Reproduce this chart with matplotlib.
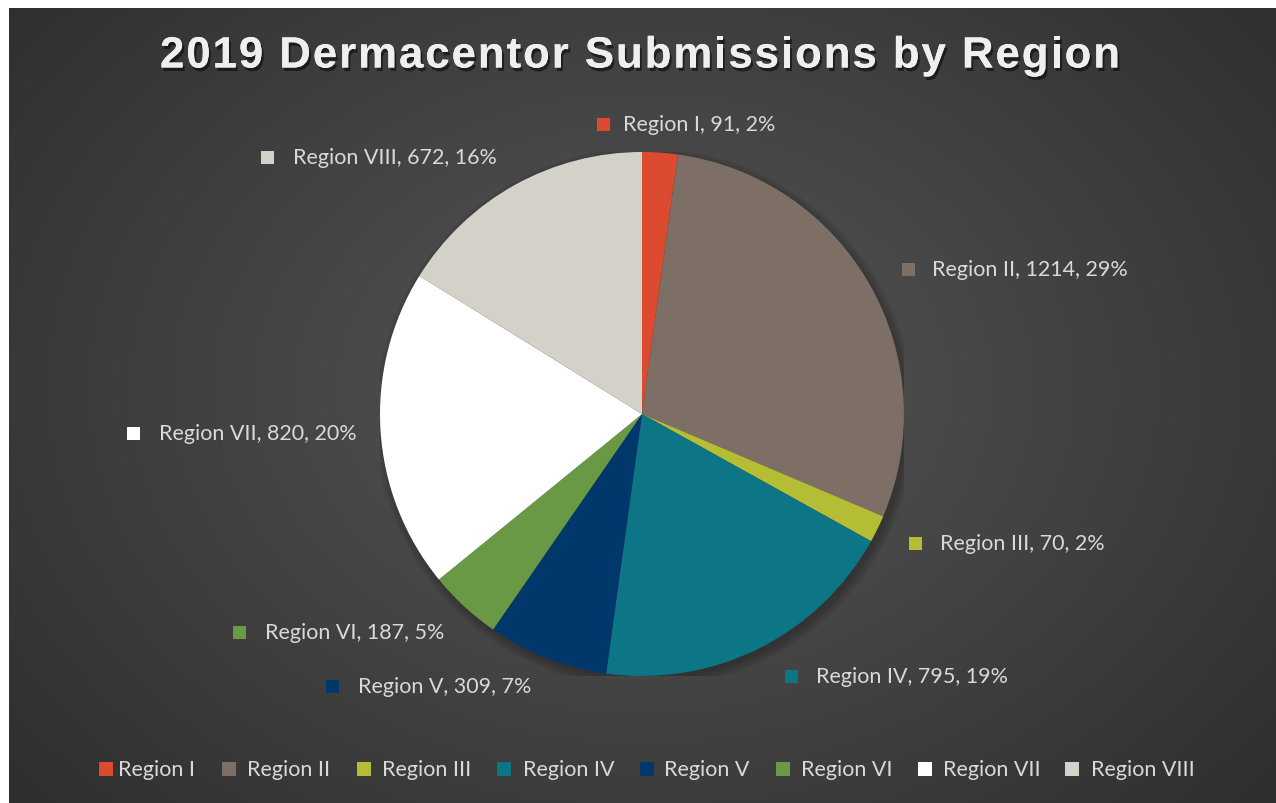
import numpy as np
import matplotlib
matplotlib.use("Agg")
import matplotlib.pyplot as plt
import matplotlib.patheffects as pe
from matplotlib.patches import Rectangle, Circle
from matplotlib.font_manager import FontProperties
from matplotlib.textpath import text_to_path

# data
regions = ["Region I", "Region II", "Region III", "Region IV",
           "Region V", "Region VI", "Region VII", "Region VIII"]
counts = [91, 1214, 70, 795, 309, 187, 820, 672]
pct_labels = ["2%", "29%", "2%", "19%", "7%", "5%", "20%", "16%"]
colors = ["#dc4b2f", "#7d6e66", "#b5bd35", "#0c7586",
          "#01386c", "#6a9945", "#ffffff", "#d4d1c9"]
title = "2019 Dermacentor Submissions by Region"

# label layout (pixels: square left x, centre y, text left x)
label_pos = [(597, 125), (902, 270), (909, 544), (785, 677),
             (326, 687), (233, 633), (127, 434), (261, 158)]
label_txt_x = [623, 932, 940, 816, 358, 265, 159, 293]
legend_sq_x = [99, 222, 357, 497, 640, 776, 918, 1065]
legend_txt_x = [118, 247, 382, 523, 664, 801, 943, 1091]

W, H = 1276, 804
fig = plt.figure(figsize=(W / 100, H / 100), dpi=100)
fig.patch.set_facecolor("white")

# dark radial gradient background
bg = fig.add_axes([9 / W, 0, 1 - 9 / W, 1 - 9 / H])
yy, xx = np.mgrid[0:200, 0:320]
d = np.sqrt(((xx - 160) / 160) ** 2 + ((yy - 95) / 120) ** 2)
shade = np.clip(0.34 - 0.12 * d, 0.12, 0.34)
bg.imshow(np.dstack([shade] * 3), aspect="auto", interpolation="bilinear")
bg.axis("off")

# pie
cx, cy, r = 642, 415, 262
ax = fig.add_axes([(cx - r) / W, (H - cy - r) / H, 2 * r / W, 2 * r / H])
for k in range(5):
    ax.add_patch(Circle((0.012, -0.015), 1.0 + 0.008 * k,
                        color="black", alpha=0.05, lw=0, zorder=0))
wedges, _ = ax.pie(counts, colors=colors, startangle=90, counterclock=False,
                   radius=1.0, wedgeprops=dict(linewidth=0))
for w in wedges:
    w.set_zorder(2)
ax.set_xlim(-1, 1)
ax.set_ylim(-1, 1)
ax.set_aspect("equal")
ax.axis("off")

# overlay in pixel coordinates for labels, legend and title
ov = fig.add_axes([0, 0, 1, 1])
ov.set_xlim(0, W)
ov.set_ylim(H, 0)
ov.axis("off")

txt_col = "#d9d9d9"
fs = 15.5
sq = 13
for (x, y), tx, name, n, p, c in zip(label_pos, label_txt_x, regions, counts,
                                     pct_labels, colors):
    ov.add_patch(Rectangle((x, y - sq / 2), sq, sq, color=c, lw=0))
    ov.text(tx, y, f"{name}, {n}, {p}",
            color=txt_col, fontsize=fs, family="Lato", va="center", ha="left")

for sx, tx, name, c in zip(legend_sq_x, legend_txt_x, regions, colors):
    ov.add_patch(Rectangle((sx, 770 - 7), 14, 14, color=c, lw=0))
    ov.text(tx, 770, name, color=txt_col, fontsize=fs, family="Lato",
            va="center", ha="left")

# title with letter spacing, placed char by char
tprop = FontProperties(family="Liberation Sans", weight="bold", size=31.5)
def w_px(s):
    return text_to_path.get_text_width_height_descent(s, tprop, ismath=False)[0] * 100 / 72
ref = w_px("H")
starts = [w_px(title[:i] + "H") - ref if i else 0.0 for i in range(len(title))]
t_left, t_right = 160, 1120
natural = w_px(title)
gap = (t_right - t_left - natural) / (len(title) - 1)
shadow = [pe.withSimplePatchShadow(offset=(1.5, -2.5), shadow_rgbFace="black", alpha=0.5),
          pe.Normal()]
for i, ch in enumerate(title):
    if ch == " ":
        continue
    ov.text(t_left + starts[i] + i * gap, 57, ch, color="#efefef",
            fontproperties=tprop, ha="left", va="center", path_effects=shadow)

fig.savefig("out.png", dpi=100, facecolor=fig.get_facecolor())
